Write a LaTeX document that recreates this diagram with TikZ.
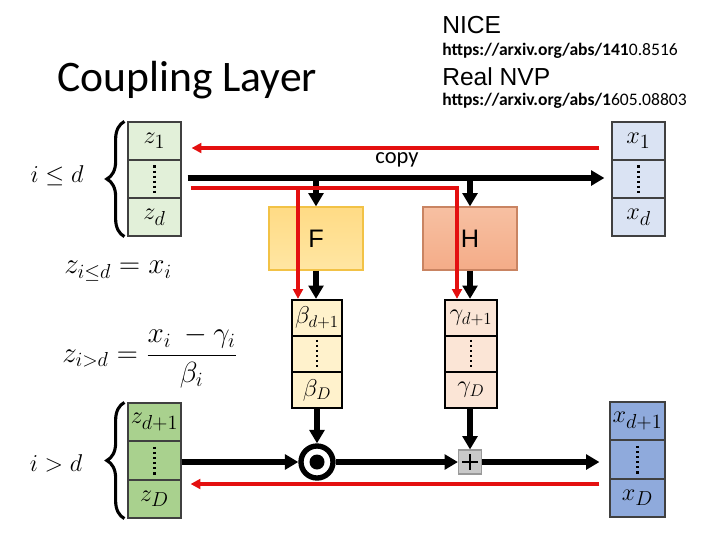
\documentclass[tikz,border=0pt]{standalone}
\usepackage{fontspec}
\setmainfont{Carlito}
\newfontfamily\arialf{Liberation Sans}
\usetikzlibrary{arrows.meta,decorations.pathreplacing,calc}
\definecolor{zlight}{HTML}{E2F0D9}
\definecolor{zdark}{HTML}{A9D18E}
\definecolor{xlight}{HTML}{DAE3F3}
\definecolor{xdark}{HTML}{8FAADC}
\definecolor{betac}{HTML}{FFF2CC}
\definecolor{gammac}{HTML}{FBE5D6}
\definecolor{redc}{HTML}{E41010}
\definecolor{ftop}{HTML}{FFDB85}
\definecolor{fbot}{HTML}{FFE6A3}
\definecolor{fborder}{HTML}{F2C246}
\definecolor{htop}{HTML}{F7C0A2}
\definecolor{hbot}{HTML}{F4AC88}
\definecolor{hborder}{HTML}{C98462}
\definecolor{plusc}{HTML}{C9C9C9}
\tikzset{
  cellbox/.style={draw=black!75, line width=0.8pt, minimum width=13.25mm, minimum height=9.5mm, inner sep=0pt, font=\fontsize{19}{19}\selectfont},
  outbox/.style={draw=black, line width=1.6pt, minimum width=12.6mm, minimum height=9mm, inner sep=0pt, font=\fontsize{18.5}{19}\selectfont},
  dotline/.style={line width=2pt, dash pattern=on 1.6pt off 2pt},
  blk/.style={line width=4.2pt, -{Triangle[length=9.5pt,width=10.5pt]}},
  redarr/.style={draw=redc, line width=2.8pt, -{Triangle[length=7pt,width=7pt]}},
  redline/.style={draw=redc, line width=2.8pt},
  bracestyle/.style={line width=2.2pt, decorate, decoration={brace, amplitude=12.5pt}},
  mathlabel/.style={font=\fontsize{20}{24}\selectfont, inner sep=0pt},
}
\begin{document}
\begin{tikzpicture}[x=0.025cm,y=-0.025cm]
\useasboundingbox (0,0) rectangle (720,540);

% titles
\node[anchor=west, inner sep=0pt, font=\fontsize{31}{34}\selectfont] (title) at (57,80) {Coupling Layer};
\node[anchor=west, inner sep=0pt, font=\arialf\fontsize{17.5}{20}\selectfont] (nice) at (442,25) {NICE};
\node[anchor=west, inner sep=0pt, font=\fontsize{12.5}{15}\selectfont] (url1) at (442,51) {\textbf{https://arxiv.org/abs/141}0.8516};
\node[anchor=west, inner sep=0pt, font=\arialf\fontsize{17.5}{20}\selectfont] (nvp) at (442,77) {Real NVP};
\node[anchor=west, inner sep=0pt, font=\fontsize{12.5}{15}\selectfont] (url2) at (442,101) {\textbf{https://arxiv.org/abs/1}605.08803};

% left top z
\node[cellbox, fill=zlight] (zt1) at (154.5,141) {$z_1$};
\node[cellbox, fill=zlight] (zt2) at (154.5,179) {};
\node[cellbox, fill=zlight] (zt3) at (154.5,217) {$z_d$};
% right top x
\node[cellbox, fill=xlight] (xt1) at (638.5,141) {$x_1$};
\node[cellbox, fill=xlight] (xt2) at (638.5,179) {};
\node[cellbox, fill=xlight] (xt3) at (638.5,217) {$x_d$};
% left bottom z
\node[cellbox, fill=zdark] (zb1) at (154.5,422) {$z_{d+1}$};
\node[cellbox, fill=zdark] (zb2) at (154.5,460.5) {};
\node[cellbox, fill=zdark] (zb3) at (154.5,499) {$z_D$};
% right bottom x
\node[cellbox, fill=xdark, minimum width=13.75mm] (xb1) at (637.5,421) {$x_{d+1}$};
\node[cellbox, fill=xdark, minimum width=13.75mm] (xb2) at (637.5,459.5) {};
\node[cellbox, fill=xdark, minimum width=13.75mm] (xb3) at (637.5,498) {$x_D$};
% beta
\node[outbox, fill=betac] (bt1) at (317,318) {$\beta_{d+1}$};
\node[outbox, fill=betac] (bt2) at (317,354) {};
\node[outbox, fill=betac] (bt3) at (317,390) {$\beta_D$};
% gamma
\node[outbox, fill=gammac, minimum width=13mm] (gt1) at (471,318) {$\gamma_{d+1}$};
\node[outbox, fill=gammac, minimum width=13mm] (gt2) at (471,354) {};
\node[outbox, fill=gammac, minimum width=13mm] (gt3) at (471,390) {$\gamma_D$};

% dotted lines
\foreach \n in {zt2,xt2,zb2,xb2}{
  \draw[dotline] ($(\n.north)+(0,6)$) -- ($(\n.south)+(0,-5)$);
}
\foreach \n in {bt2,gt2}{
  \draw[dotline, line width=1.6pt] ($(\n.north)+(0,5)$) -- ($(\n.south)+(0,-4)$);
}

% F and H boxes
\node[draw=fborder, line width=0.8pt, top color=ftop, bottom color=fbot, minimum width=23.5mm, minimum height=15.75mm, inner sep=0pt, font=\arialf\fontsize{18}{20}\selectfont] (F) at (316,238.5) {F};
\node[draw=hborder, line width=0.8pt, top color=htop, bottom color=hbot, minimum width=23.5mm, minimum height=15.75mm, inner sep=0pt, font=\arialf\fontsize{18}{20}\selectfont] (H) at (470,238.5) {H};

% braces and conditions
\draw[bracestyle] ($(zt3.south west)+(-3,0)$) coordinate (bra1) -- ($(zt1.north west)+(-3,0)$) coordinate (bra2);
\draw[bracestyle] ($(zb3.south west)+(-3,0)$) coordinate (bra3) -- ($(zb1.north west)+(-3,0)$) coordinate (bra4);
\node[mathlabel, font=\fontsize{17.5}{20}\selectfont] (cond1) at (57,176) {$i \le d$};
\node[mathlabel, font=\fontsize{17.5}{20}\selectfont] (cond2) at (56,463) {$i > d$};

% equations
\node[mathlabel, anchor=west] (eq1) at (64,271) {$z_{i\le d} = x_i$};
\node[mathlabel, anchor=west] (eq2) at (62,357) {$\displaystyle z_{i>d} = \frac{x_i\ - \gamma_i}{\beta_i}$};

% copy label
\node[inner sep=0pt, font=\fontsize{16}{18}\selectfont] (copy) at (397,160) {copy};

% top red arrow (copy back)
\draw[redarr] ($(xt1.west)+(-12,7)$) -- ($(zt1.east)+(10,7)$);

% black top line
\draw[blk] ($(zt2.east)+(6,-1)$) -- ($(xt2.west)+(-7,-1)$);
\draw[blk] (F.north |- 0,178) -- (F.north);
\draw[blk] (H.north |- 0,178) -- (H.north);
\draw[blk] (F.south) -- (F.south |- bt1.north);
\draw[blk] (H.south) -- (H.south |- gt1.north);

% red line to beta and gamma
\coordinate (rsplit) at ($(bt1.north)+(-19,0)$);
\draw[redline] ($(zt2.east)+(9,9)$) -| ($(gt1.north)+(-14,-4)$);
\draw[redarr] ($(gt1.north)+(-14,-112)$) -- ($(gt1.north)+(-14,0)$);
\draw[redarr] (rsplit |- 0,188) -- (rsplit);

% odot and plus
\node[circle, draw=black, line width=3.8pt, fill=white, minimum size=8mm, inner sep=0pt] (odot) at (317,462) {};
\fill (odot.center) circle (7.5);
\node[draw=black!40, line width=0.8pt, fill=plusc, minimum width=5.75mm, minimum height=6mm, inner sep=0pt] (plus) at (470,462) {};
\draw[line width=0.9pt] ($(plus.center)+(-8,0)$) -- ($(plus.center)+(8,0)$);
\draw[line width=0.9pt] ($(plus.center)+(0,-8)$) -- ($(plus.center)+(0,8)$);

\draw[blk] (bt3.south) -- (odot.north);
\draw[blk] (gt3.south -| plus.north) -- (plus.north);
\draw[blk] (zb2.east |- odot.west) -- (odot.west);
\draw[blk] (odot.east) -- (plus.west);
\draw[blk] (plus.east) -- ($(xb2.west |- plus.east)+(-10,0)$);

% bottom red arrow
\draw[redarr] ($(xb2.west)+(-10,24.5)$) -- ($(zb2.east)+(9,23.5)$);
\end{tikzpicture}
\end{document}
